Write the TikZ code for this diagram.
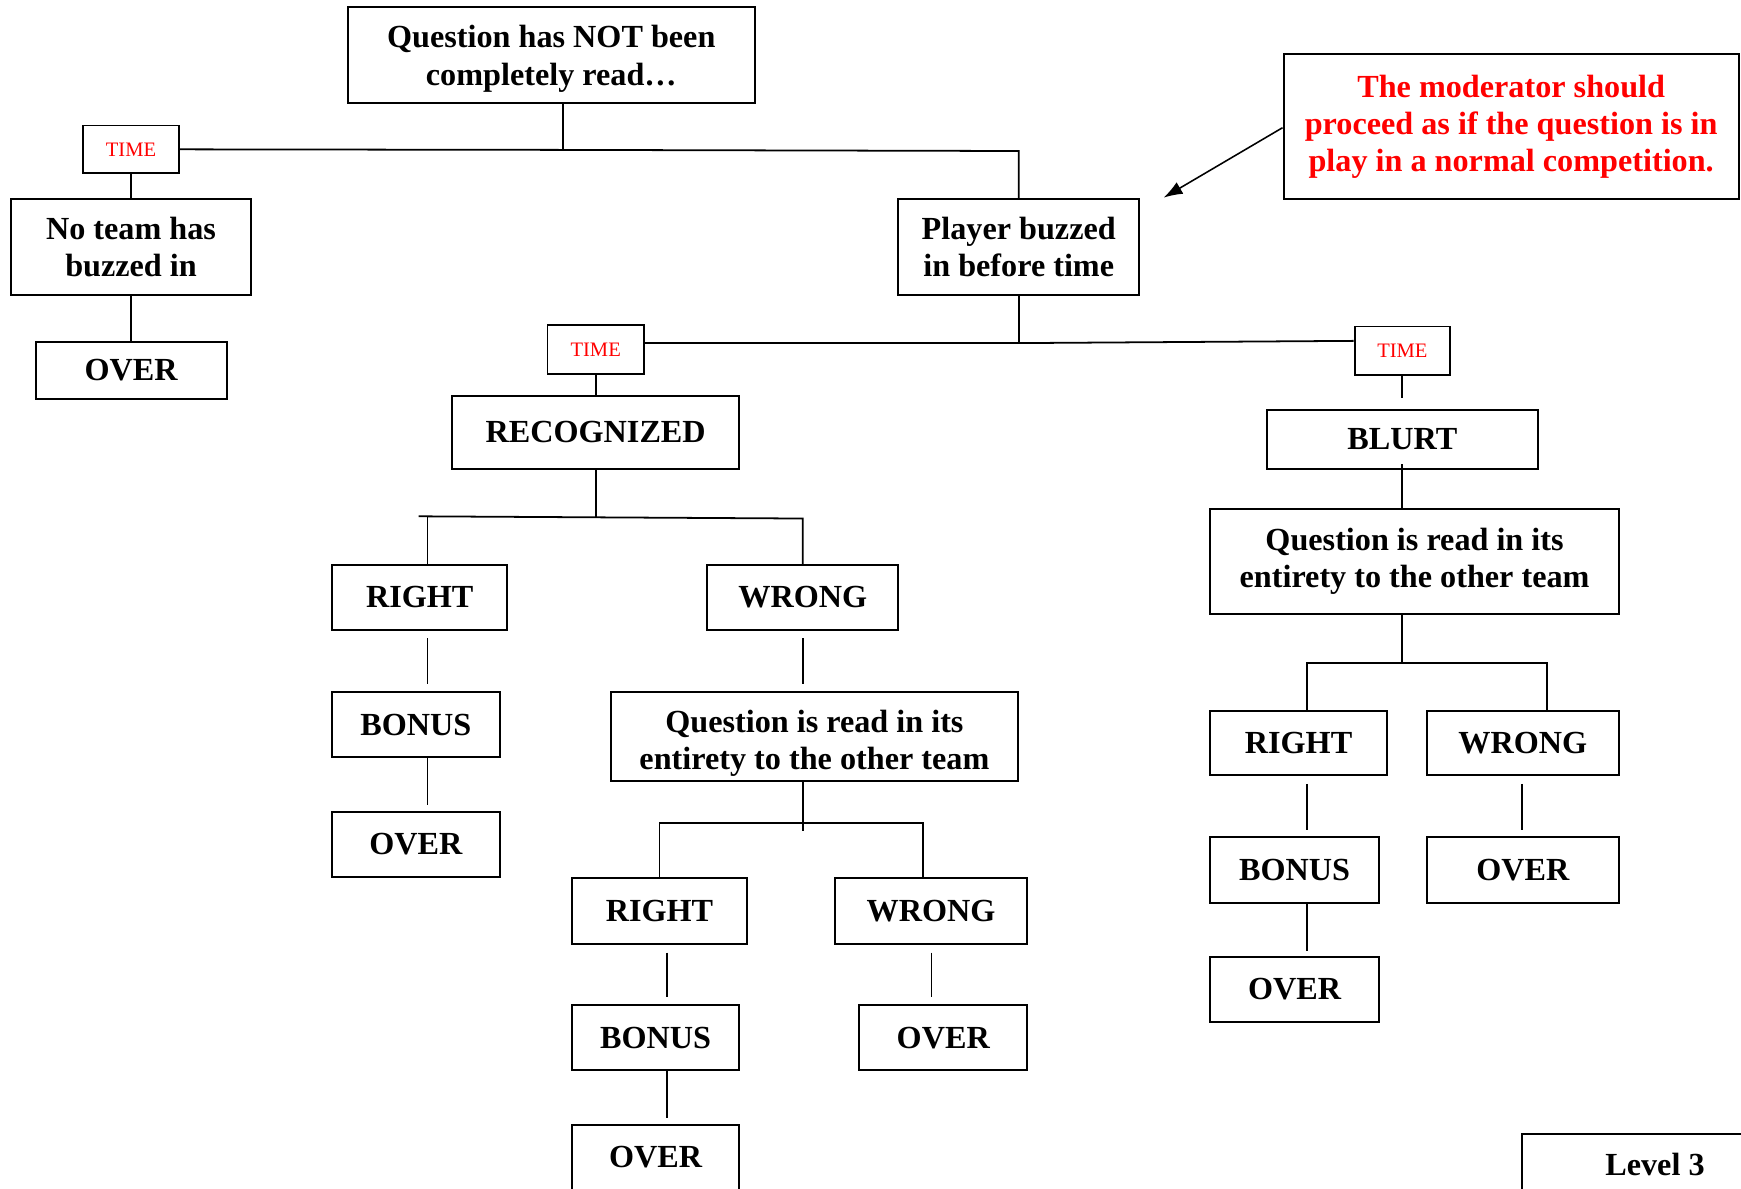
\documentclass[tikz,border=0pt]{standalone}
\usepackage{fontspec}
\setmainfont{Liberation Serif}
\usetikzlibrary{arrows.meta}
\begin{document}
\begin{tikzpicture}[x=1pt,y=-1pt,
  box/.style={draw, line width=1.8pt, inner sep=0pt, align=center, font=\fontsize{29}{33.5}\selectfont\bfseries},
  boxtext/.style={inner sep=0pt, align=center, font=\fontsize{29}{33.5}\selectfont\bfseries},
  notebox/.style={box, text=red},
  timebox/.style={draw, line width=1.6pt, inner sep=0pt, text=red, font=\fontsize{18.5}{22}\selectfont},
  link/.style={line width=1.6pt},
  gaplink/.style={link, shorten <=7pt, shorten >=6pt}]
\clip (0,0) rectangle (1568,1070);
\fill[white] (0,0) rectangle (1568,1070);

% nodes
\node[box, minimum width=367pt, minimum height=87pt] (top) at (496.5,49.5) {};
\node[boxtext, yshift=-3.5pt] (toptext) at (top) {Question has NOT been\\completely read…};
\node[timebox, minimum width=86pt, minimum height=43pt] (time1) at (118,134.5) {TIME};
\node[box, minimum width=216pt, minimum height=87pt] (noteam) at (118,222.5) {No team has\\buzzed in};
\node[box, minimum width=172pt, minimum height=51pt] (over1) at (118,333.5) {OVER};
\node[box, minimum width=217pt, minimum height=87pt] (player) at (917.5,222.5) {Player buzzed\\in before time};
\node[notebox, minimum width=410pt, minimum height=130pt] (note) at (1361,114) {The moderator should\\proceed as if the question is in\\play in a normal competition.};

\node[timebox, minimum width=87pt, minimum height=44pt] (time2) at (536.5,315) {TIME};
\node[timebox, minimum width=86pt, minimum height=44pt] (time3) at (1263,316) {TIME};

\node[box, minimum width=259pt, minimum height=65pt] (recog) at (536.5,389.5) {RECOGNIZED};
\node[box, minimum width=158pt, minimum height=58pt] (right1) at (378,538) {RIGHT};
\node[box, minimum width=151pt, minimum height=59pt] (bonus1) at (374.5,652.5) {BONUS};
\node[box, minimum width=151pt, minimum height=59pt] (over2) at (374.5,760.5) {OVER};
\node[box, minimum width=172pt, minimum height=58pt] (wrong1) at (723,538) {WRONG};
\node[box, minimum width=367pt, minimum height=80pt] (quest1) at (733.5,663) {};
\node[boxtext, yshift=-6.5pt] (quest1text) at (quest1) {Question is read in its\\entirety to the other team};
\node[box, minimum width=158pt, minimum height=59pt] (right2) at (594,820.5) {RIGHT};
\node[box, minimum width=151pt, minimum height=59pt] (bonus2) at (590.5,934.5) {BONUS};
\node[box, minimum width=151pt, minimum height=59pt] (over3) at (590.5,1042.5) {OVER};
\node[box, minimum width=173pt, minimum height=59pt] (wrong2) at (838.5,820.5) {WRONG};
\node[box, minimum width=151pt, minimum height=59pt] (over4) at (849.5,934.5) {OVER};

\node[box, minimum width=244pt, minimum height=53pt] (blurt) at (1263,395.5) {BLURT};
\node[box, minimum width=368pt, minimum height=95pt] (quest2) at (1274,505.5) {Question is read in its\\entirety to the other team};
\node[box, minimum width=159pt, minimum height=58pt] (right3) at (1169.5,669) {RIGHT};
\node[box, minimum width=173pt, minimum height=58pt] (wrong3) at (1371.5,669) {WRONG};
\node[box, minimum width=152pt, minimum height=59pt] (bonus3) at (1166,783.5) {BONUS};
\node[box, minimum width=152pt, minimum height=58pt] (over5) at (1166,891) {OVER};
\node[box, minimum width=173pt, minimum height=59pt] (over6) at (1371.5,783.5) {OVER};

\node[box, minimum width=239pt, minimum height=56pt] (level) at (1490.5,1049) {Level 3};

% junction coordinates
\coordinate (j1) at (507,135);
\coordinate (j1r) at (917.5,136);
\coordinate (j2) at (917.5,309);
\coordinate (j3) at (536.5,466);
\coordinate (j3l) at (377,465);
\coordinate (a385) at (385,465);
\coordinate (j3r) at (723,467);
\coordinate (j4) at (723,741);
\coordinate (j4l) at (594,741);
\coordinate (j4r) at (831,741);
\coordinate (j4d) at (723,748);
\coordinate (a601) at (601,0);
\coordinate (a839) at (839,0);
\coordinate (j5) at (1263,597);
\coordinate (j5l) at (1177,597);
\coordinate (j5r) at (1393,597);
\coordinate (a1177) at (1177,0);
\coordinate (a1371) at (1371,0);
\coordinate (tip) at (1048,178);

% connectors
\draw[link] (top.south -| j1) -- (j1);
\draw[link] (time1.east) -- (j1) -- (j1r) -- (player.north);
\draw[link] (time1.south) -- (noteam.north);
\draw[link] (noteam.south) -- (over1.north);
\draw[link] (player.south) -- (j2);
\draw[link] (time2.east |- j2) -- (j2) -- ([yshift=2pt]time3.west |- j2);
\draw[link] (time2.south) -- (recog.north);
\draw[link, shorten >=10pt] (time3.south) -- (blurt.north);

\draw[link] (recog.south) -- (j3);
\draw[link] (j3l) -- (j3r) -- (wrong1.north);
\draw[link] (a385) -- (right1.north -| a385);
\draw[gaplink] (right1.south -| a385) -- (bonus1.north -| a385);
\draw[link, shorten >=5pt] (bonus1.south -| a385) -- (over2.north -| a385);
\draw[gaplink] (wrong1.south) -- (quest1.north -| wrong1.south);

\draw[link] (quest1.south -| j4) -- (j4d);
\draw[link] (right2.north -| j4l) -- (j4l) -- (j4r) -- (wrong2.north -| j4r);
\draw[gaplink] (right2.south -| a601) -- (bonus2.north -| a601);
\draw[link, shorten >=5pt] (bonus2.south -| a601) -- (over3.north -| a601);
\draw[gaplink] (wrong2.south -| a839) -- (over4.north -| a839);

\draw[link, shorten <=-5pt, shorten >=-2pt] (blurt.south) -- (quest2.north -| blurt.south);
\draw[link] (quest2.south -| j5) -- (j5);
\draw[link] (right3.north -| j5l) -- (j5l) -- (j5r) -- (wrong3.north -| j5r);
\draw[gaplink] (right3.south -| a1177) -- (bonus3.north -| a1177);
\draw[link, shorten >=5pt] (bonus3.south -| a1177) -- (over5.north -| a1177);
\draw[gaplink] (wrong3.south -| a1371) -- (over6.north -| a1371);

\draw[line width=1.4pt, -{Latex[length=17pt,width=12pt]}] ([yshift=-1pt]note.west) -- (tip);
\end{tikzpicture}
\end{document}
